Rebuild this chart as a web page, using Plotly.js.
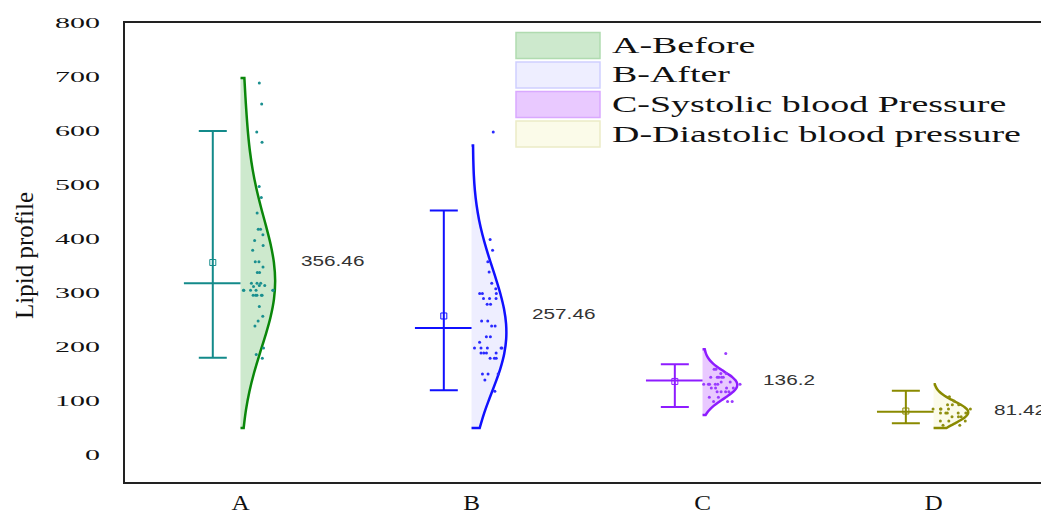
<!DOCTYPE html>
<html>
<head>
<meta charset="utf-8">
<script src="https://cdn.plot.ly/plotly-3.0.1.min.js"></script>
<style>html,body{margin:0;padding:0;background:#fff;}#chart{width:1041px;height:515px;}</style>
</head>
<body>
<div id="chart"></div>
<script>
// ---------- data ----------
const categories = ['A', 'B', 'C', 'D'];
const seriesNames = ['A-Before', 'B-After', 'C-Systolic blood Pressure', 'D-Diastolic blood pressure'];

const samplesA = [689, 650, 598, 579, 497, 477, 448, 418, 418, 408, 397, 388, 379, 358, 358, 348, 338, 338,
  318, 318, 318, 314, 314, 312, 305, 305, 305, 305, 305, 305, 296, 296, 296, 296, 296, 275, 257, 248, 239, 198, 186, 179];
const samplesB = [598, 399, 379, 358, 339, 318, 308, 299, 299, 299, 290, 290, 290, 279, 279, 248, 248, 239, 239,
  219, 219, 209, 198, 198, 198, 198, 198, 189, 189, 189, 189, 179, 179, 179, 150, 150, 150, 139, 118];
const samplesC = [188, 159, 159, 151, 151, 144, 144, 144, 144, 144, 135, 135, 131, 131, 131, 131, 131, 131,
  124, 124, 124, 124, 117, 117, 117, 117, 107, 107, 99, 99, 99];
const samplesD = [108, 100, 93, 93, 93, 85, 85, 85, 85, 85, 78, 78, 78, 78, 78, 71, 71, 71, 63, 63, 63, 55, 55];

const means = [356.46, 257.46, 136.2, 81.42];
const meanLabels = ['356.46', '257.46', '136.2', '81.42'];
const medians = [318, 235, 138, 80];
const whiskerTop = [600, 453, 168, 119];
const whiskerBottom = [180, 120, 89, 59];
const spanMin = [50, 50, 74, 50];
const spanMax = [698, 573, 196, 131];
const yTicks = [0, 100, 200, 300, 400, 500, 600, 700, 800];

// ---------- styles ----------
const samples = [samplesA, samplesB, samplesC, samplesD];
const bandwidths = [105, 85, 18, 15];
const lineColors = ['#0a870a', '#1010ff', '#8e1cff', '#8a8a00'];
const fillColors = ['#cde9cd', '#eeeeff', '#e9c9ff', '#fbfbe9'];
const swatchBorders = ['#b0dbb0', '#cfcfff', '#d9a9ff', '#ececc6'];
const errColors = ['#138a8a', '#1010ff', '#8e1cff', '#8a8a00'];
const pointColors = ['#1a8f8f', '#2a2aff', '#9a3cff', '#8f8f10'];

const data = [];
categories.forEach(function (c, i) {
  data.push({
    type: 'violin', x0: i, y: samples[i], name: seriesNames[i],
    side: 'positive', width: 0.3, scalemode: 'width',
    bandwidth: bandwidths[i], spanmode: 'manual', span: [spanMin[i], spanMax[i]],
    line: {color: lineColors[i], width: 2.5}, fillcolor: fillColors[i],
    points: 'all', pointpos: 0.55, jitter: 0.6,
    marker: {size: 3, color: pointColors[i]},
    box: {visible: false}, meanline: {visible: false},
    hoverinfo: 'skip', showlegend: false
  });
  // median line
  data.push({
    type: 'scatter', mode: 'lines', x: [i - 0.245, i], y: [medians[i], medians[i]],
    line: {color: errColors[i], width: 2}, hoverinfo: 'skip', showlegend: false
  });
  // whisker + mean marker
  data.push({
    type: 'scatter', mode: 'markers', x: [i - 0.12], y: [means[i]],
    marker: {symbol: 'square-open', size: 6, color: errColors[i], line: {width: 1}},
    error_y: {type: 'data', symmetric: false,
      array: [whiskerTop[i] - means[i]], arrayminus: [means[i] - whiskerBottom[i]],
      color: errColors[i], thickness: 2, width: 14},
    hoverinfo: 'skip', showlegend: false
  });
});
// mean labels
data.push({
  type: 'scatter', mode: 'text', x: categories.map(function (c, i) { return i + 0.262; }), y: means,
  text: meanLabels, textposition: 'middle right',
  textfont: {family: 'Liberation Sans', size: 14, color: '#333'},
  cliponaxis: false, hoverinfo: 'skip', showlegend: false
});

// ---------- layout ----------
const L = 125, T = 23, B = 482, W = 916, H = B - T;
function pxX(x) { return (x - L) / W; }
function pxY(y) { return (B - y) / H; }

const shapes = [], annotations = [];
const rowY = [45.5, 75, 104.5, 134];
seriesNames.forEach(function (n, i) {
  shapes.push({type: 'rect', xref: 'paper', yref: 'paper',
    x0: pxX(516), x1: pxX(600), y0: pxY(rowY[i] + 13), y1: pxY(rowY[i] - 13),
    fillcolor: fillColors[i], line: {color: swatchBorders[i], width: 1.5}});
  annotations.push({xref: 'paper', yref: 'paper', x: pxX(610), y: pxY(rowY[i]),
    xanchor: 'left', yanchor: 'middle', align: 'left', showarrow: false, text: n,
    font: {family: 'Liberation Serif', size: 23, color: '#111'}});
});
annotations.push({xref: 'paper', yref: 'paper', x: pxX(24), y: pxY(256), textangle: -90,
  xanchor: 'center', yanchor: 'middle', showarrow: false, text: 'Lipid profile',
  font: {family: 'Liberation Serif', size: 25, color: '#111'}});

const layout = {
  width: 1041, height: 515,
  margin: {l: L, r: 0, t: T, b: 515 - B, pad: 0},
  paper_bgcolor: '#ffffff', plot_bgcolor: '#ffffff',
  showlegend: false, violinmode: 'overlay',
  xaxis: {range: [-0.5, 3.465], tickmode: 'array', tickvals: [0, 1, 2, 3], ticktext: categories,
    showline: true, mirror: true, linecolor: '#222', linewidth: 2, ticks: '',
    showgrid: false, zeroline: false, ticklabelstandoff: 1,
    tickfont: {family: 'Liberation Serif', size: 21, color: '#111'}},
  yaxis: {range: [-50, 800], tickmode: 'array', tickvals: yTicks,
    showline: true, mirror: false, linecolor: '#222', linewidth: 2, ticks: '',
    showgrid: false, zeroline: false, ticklabelstandoff: 20,
    tickfont: {family: 'Liberation Serif', size: 15, color: '#111'}},
  shapes: shapes, annotations: annotations
};

function stretch(nodes, f) {
  Array.prototype.forEach.call(nodes, function (el) {
    var w = el.getComputedTextLength();
    if (w > 0) {
      el.setAttribute('textLength', (w * f).toFixed(1));
      el.setAttribute('lengthAdjust', 'spacingAndGlyphs');
    }
  });
}

Plotly.newPlot('chart', data, layout, {displayModeBar: false, staticPlot: true}).then(function (gd) {
  stretch(gd.querySelectorAll('.ytick text'), 2.0);
  stretch(gd.querySelectorAll('.xtick text'), 1.2);
  stretch(gd.querySelectorAll('.textpoint text'), 1.48);
  var ann = gd.querySelectorAll('.annotation-text');
  var legendNodes = Array.prototype.filter.call(ann, function (el) {
    return seriesNames.indexOf(el.textContent) >= 0;
  });
  stretch(legendNodes, 1.65);
});
</script>
</body>
</html>
